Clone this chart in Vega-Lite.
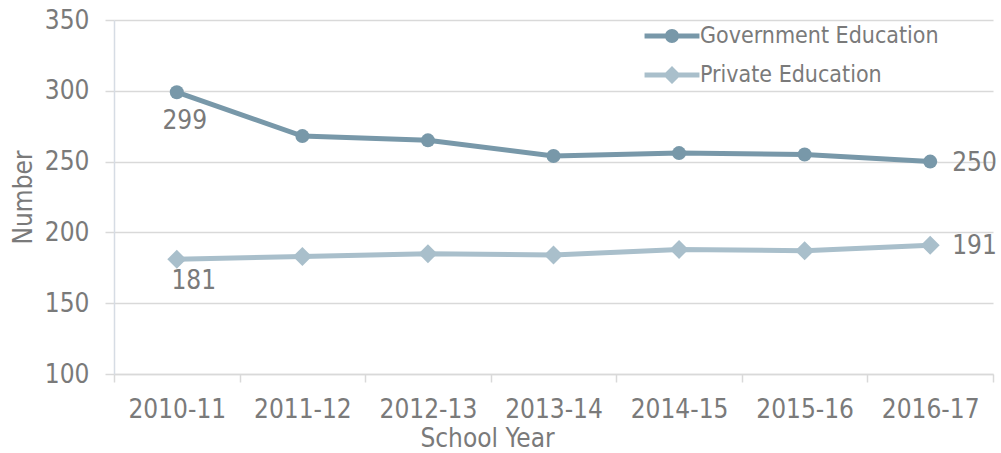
{
  "$schema": "https://vega.github.io/schema/vega-lite/v6.json",
  "width": 879,
  "height": 354,
  "autosize": {"type": "none"},
  "padding": {"left": 114, "top": 20, "right": 8, "bottom": 79},
  "background": "white",
  "config": {
    "font": "DejaVu Sans Condensed, Liberation Sans, sans-serif",
    "view": {"stroke": null},
    "axis": {
      "labelColor": "#7a7a7a",
      "titleColor": "#7a7a7a",
      "labelFontSize": 26,
      "titleFontSize": 26,
      "titleFontWeight": "normal",
      "tickColor": "#d9d9d9",
      "domainColor": "#d9d9d9",
      "gridColor": "#d9d9d9",
      "tickWidth": 1.5,
      "domainWidth": 1.5,
      "gridWidth": 1.5
    },
    "legend": {"symbolOpacity": 1, "symbolStrokeWidth": 0}
  },
  "data": {
    "values": [
      {"year": "2010-11", "series": "Government Education", "value": 299},
      {"year": "2011-12", "series": "Government Education", "value": 268},
      {"year": "2012-13", "series": "Government Education", "value": 265},
      {"year": "2013-14", "series": "Government Education", "value": 254},
      {"year": "2014-15", "series": "Government Education", "value": 256},
      {"year": "2015-16", "series": "Government Education", "value": 255},
      {"year": "2016-17", "series": "Government Education", "value": 250},
      {"year": "2010-11", "series": "Private Education", "value": 181},
      {"year": "2011-12", "series": "Private Education", "value": 183},
      {"year": "2012-13", "series": "Private Education", "value": 185},
      {"year": "2013-14", "series": "Private Education", "value": 184},
      {"year": "2014-15", "series": "Private Education", "value": 188},
      {"year": "2015-16", "series": "Private Education", "value": 187},
      {"year": "2016-17", "series": "Private Education", "value": 191}
    ]
  },
  "encoding": {
    "x": {
      "field": "year",
      "type": "nominal",
      "sort": null,
      "scale": {"type": "band", "paddingInner": 0, "paddingOuter": 0},
      "axis": {
        "title": "School Year",
        "labelAngle": 0,
        "tickBand": "extent",
        "tickSize": 8,
        "labelPadding": 14,
        "titlePadding": 3,
        "titleX": 373,
        "grid": false
      }
    },
    "y": {
      "field": "value",
      "type": "quantitative",
      "scale": {"domain": [100, 350], "nice": false, "zero": false},
      "axis": {
        "title": "Number",
        "values": [100, 150, 200, 250, 300, 350],
        "tickSize": 9,
        "labelPadding": 16,
        "titlePadding": 8,
        "domainColor": "#d6dce4",
        "grid": true
      }
    }
  },
  "layer": [
    {
      "mark": {"type": "line", "strokeWidth": 5},
      "encoding": {
        "color": {
          "field": "series",
          "type": "nominal",
          "scale": {"domain": ["Government Education", "Private Education"], "range": ["#7898a9", "#a9bfcb"]}
        }
      }
    },
    {
      "mark": {"type": "point", "filled": true, "opacity": 0, "size": 900},
      "encoding": {
        "color": {
          "field": "series",
          "type": "nominal",
          "scale": {"domain": ["Government Education", "Private Education"], "range": ["#7898a9", "#a9bfcb"]},
          "legend": {
            "title": null,
            "orient": "none",
            "legendX": 543,
            "legendY": 1,
            "padding": 0,
            "symbolSize": 900,
            "symbolOpacity": 1,
            "symbolStrokeWidth": 0,
            "labelFontSize": 23,
            "labelColor": "#7a7a7a",
            "labelLimit": 500,
            "labelOffset": 13,
            "rowPadding": 12
          }
        },
        "shape": {
          "field": "series",
          "type": "nominal",
          "scale": {
            "domain": ["Government Education", "Private Education"],
            "range": [
              "M-1.83,-0.167H1.83V0.167H-1.83Z M0.467,0A0.467,0.467,0,1,1,-0.467,0A0.467,0.467,0,1,1,0.467,0Z",
              "M-1.83,-0.167H1.83V0.167H-1.83Z M-0.6,0L0,-0.6L0.6,0L0,0.6Z"
            ]
          }
        }
      }
    },
    {
      "transform": [{"filter": "datum.series == 'Government Education'"}],
      "mark": {"type": "point", "filled": true, "opacity": 1, "shape": "circle", "size": 196, "color": "#7898a9"}
    },
    {
      "transform": [{"filter": "datum.series == 'Private Education'"}],
      "mark": {"type": "point", "filled": true, "opacity": 1, "shape": "diamond", "size": 361, "color": "#a9bfcb"}
    },
    {
      "transform": [{"filter": "datum.year == '2010-11' && datum.series == 'Government Education'"}],
      "mark": {"type": "text", "fontSize": 26, "color": "#7a7a7a", "align": "center", "baseline": "middle", "dx": 8, "dy": 29},
      "encoding": {"text": {"field": "value", "type": "quantitative"}}
    },
    {
      "transform": [{"filter": "datum.year == '2010-11' && datum.series == 'Private Education'"}],
      "mark": {"type": "text", "fontSize": 26, "color": "#7a7a7a", "align": "center", "baseline": "middle", "dx": 17, "dy": 22},
      "encoding": {"text": {"field": "value", "type": "quantitative"}}
    },
    {
      "transform": [{"filter": "datum.year == '2016-17'"}],
      "mark": {"type": "text", "fontSize": 26, "color": "#7a7a7a", "align": "left", "baseline": "middle", "dx": 22, "dy": 1},
      "encoding": {"text": {"field": "value", "type": "quantitative"}}
    }
  ]
}
